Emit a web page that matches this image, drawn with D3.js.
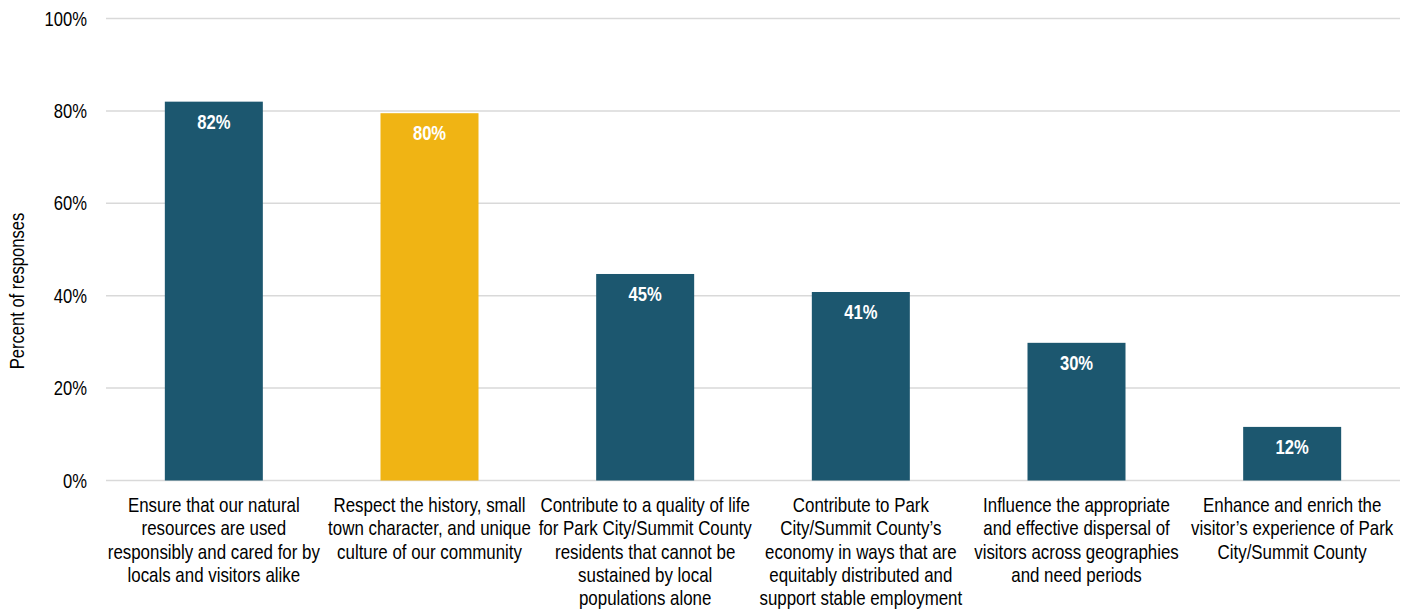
<!DOCTYPE html>
<html>
<head>
<meta charset="utf-8">
<script src="https://cdn.jsdelivr.net/npm/d3@7"></script>
<style>
  html, body { margin: 0; padding: 0; background: #ffffff; }
  svg { display: block; }
  text { font-family: "Liberation Sans", Arial, sans-serif; }
</style>
</head>
<body>
<svg id="chart" width="1411" height="611"></svg>
<script>
const categories = [
  "Ensure that our natural\nresources are used\nresponsibly and cared for by\nlocals and visitors alike",
  "Respect the history, small\ntown character, and unique\nculture of our community",
  "Contribute to a quality of life\nfor Park City/Summit County\nresidents that cannot be\nsustained by local\npopulations alone",
  "Contribute to Park\nCity/Summit County\u2019s\neconomy in ways that are\nequitably distributed and\nsupport stable employment",
  "Influence the appropriate\nand effective dispersal of\nvisitors across geographies\nand need periods",
  "Enhance and enrich the\nvisitor\u2019s experience of Park\nCity/Summit County"
];
const values = [82, 79.5, 44.7, 40.8, 29.8, 11.6];
const highlight = [false, true, false, false, false, false];
const yTicks = [0, 20, 40, 60, 80, 100];
const yTitle = "Percent of responses";

const NARROW = 0.83; // emulate Arial Narrow with horizontally condensed Liberation Sans
const svg = d3.select("#chart");
const plot = { left: 106, right: 1400, top: 18.5, bottom: 480.5 };

const x = d3.scaleBand()
  .domain(categories)
  .range([plot.left, plot.right])
  .paddingInner(0.5456)
  .paddingOuter(0.2728);

const y = d3.scaleLinear().domain([0, 100]).range([plot.bottom, plot.top]);

// gridlines
svg.append("g").selectAll("line")
  .data(yTicks)
  .join("line")
  .attr("x1", plot.left).attr("x2", plot.right)
  .attr("y1", d => y(d)).attr("y2", d => y(d))
  .attr("stroke", "#d9d9d9")
  .attr("stroke-width", 1.5);

// y tick labels
svg.append("g").selectAll("text")
  .data(yTicks)
  .join("text")
  .attr("transform", d => `translate(87,${y(d)}) scale(${NARROW},1)`)
  .attr("dy", "0.35em")
  .attr("text-anchor", "end")
  .attr("font-size", 20)
  .attr("fill", "#000")
  .text(d => d + "%");

// y title
svg.append("text")
  .attr("transform", `translate(24,291) rotate(-90) scale(${NARROW},1)`)
  .attr("text-anchor", "middle")
  .attr("font-size", 20)
  .attr("fill", "#000")
  .text(yTitle);

// bars
const data = categories.map((c, i) => ({ c, v: values[i], h: highlight[i] }));
svg.append("g").selectAll("rect")
  .data(data)
  .join("rect")
  .attr("x", d => x(d.c))
  .attr("width", x.bandwidth())
  .attr("y", d => y(d.v))
  .attr("height", d => y(0) - y(d.v))
  .attr("fill", d => d.h ? "#f0b414" : "#1c576f");

// value labels
svg.append("g").selectAll("text")
  .data(data)
  .join("text")
  .attr("transform", d => `translate(${x(d.c) + x.bandwidth() / 2},${y(d.v) + 20}) scale(${NARROW},1)`)
  .attr("dy", "0.35em")
  .attr("text-anchor", "middle")
  .attr("font-size", 20)
  .attr("font-weight", "bold")
  .attr("fill", "#ffffff")
  .text(d => Math.round(d.v) + "%");

// category labels
const cat = svg.append("g").selectAll("text")
  .data(categories)
  .join("text")
  .attr("text-anchor", "middle")
  .attr("font-size", 20)
  .attr("fill", "#000")
  .attr("transform", d => `translate(${x(d) + x.bandwidth() / 2},512) scale(0.845,1)`);
cat.selectAll("tspan")
  .data(d => d.split("\n"))
  .join("tspan")
  .attr("x", 0)
  .attr("y", (d, i) => i * 23.3)
  .text(d => d);
</script>
</body>
</html>
